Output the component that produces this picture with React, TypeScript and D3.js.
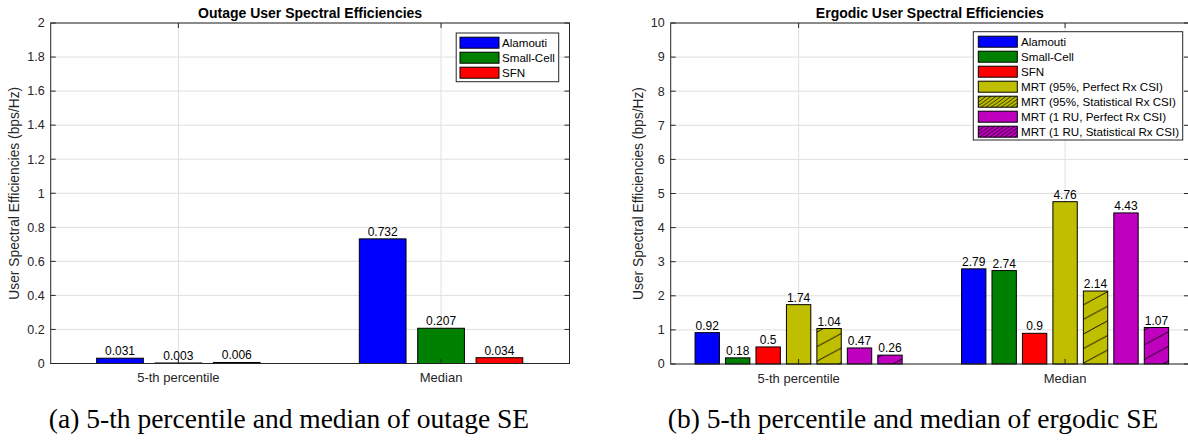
import React from 'react';
import * as d3 from 'd3';

const categories = ['5-th percentile', 'Median'];

const outageNames = ['Alamouti', 'Small-Cell', 'SFN'];
const outageAlamouti = [0.031, 0.732];
const outageSmallCell = [0.003, 0.207];
const outageSfn = [0.006, 0.034];

const ergodicNames = [
  'Alamouti',
  'Small-Cell',
  'SFN',
  'MRT (95%, Perfect Rx CSI)',
  'MRT (95%, Statistical Rx CSI)',
  'MRT (1 RU, Perfect Rx CSI)',
  'MRT (1 RU, Statistical Rx CSI)',
];
const ergodicAlamouti = [0.92, 2.79];
const ergodicSmallCell = [0.18, 2.74];
const ergodicSfn = [0.5, 0.9];
const ergodicMrt95Perfect = [1.74, 4.76];
const ergodicMrt95Stat = [1.04, 2.14];
const ergodicMrt1Perfect = [0.47, 4.43];
const ergodicMrt1Stat = [0.26, 1.07];

// colours / hatching per series
const blue = { fill: '#0000ff', hatch: false };
const green = { fill: '#008000', hatch: false };
const red = { fill: '#ff0000', hatch: false };
const olive = { fill: '#bfbf00', hatch: false };
const oliveHatch = { fill: '#bfbf00', hatch: true };
const purple = { fill: '#bf00bf', hatch: false };
const purpleHatch = { fill: '#bf00bf', hatch: true };

const AX = '#262626';
const GRID = '#dfdfdf';
const SANS = '"Liberation Sans", Arial, Helvetica, sans-serif';
const SERIF = '"Liberation Serif", "Times New Roman", serif';

type Layout = {
  id: string;
  left: number;
  right: number;
  top: number;
  bottom: number;
  xDomain: [number, number];
  yMax: number;
  yLabelX: number;
  catY: number;
  legend: { x: number; y: number; w: number; h: number; sw: number; textX: number; row0: number };
  captionX: number;
};

function Panel({ layout, title, caption, names, values, styles }: any) {
  const L: Layout = layout;
  const x = d3.scaleLinear().domain(L.xDomain).range([L.left, L.right]);
  const y = d3.scaleLinear().domain([0, L.yMax]).range([L.bottom, L.top]);
  const yTicks = y.ticks(10);
  const fmt = d3.format('~g');
  const n = names.length;
  const groupW = Math.min(0.8, n / (n + 1.5));
  const step = groupW / n;
  const barW = 0.8 * step;
  const tick = 5;
  const midX = (L.left + L.right) / 2;
  const midY = (L.top + L.bottom) / 2;
  const hb = `${L.id}-hb`;
  const hl = `${L.id}-hl`;

  return (
    <g>
      <defs>
        <pattern id={hb} patternUnits="userSpaceOnUse" width={27} height={14.6}>
          <path d="M-2,15.68 L29,-1.08 M-29,15.68 L2,-1.08 M25,15.68 L56,-1.08" stroke="#000" strokeWidth={0.9} />
        </pattern>
        <pattern id={hl} patternUnits="userSpaceOnUse" width={5} height={3.6}>
          <path d="M-1,4.32 L6,-0.72 M-6,4.32 L1,-0.72 M4,4.32 L11,-0.72" stroke="#000" strokeWidth={0.8} />
        </pattern>
      </defs>

      {/* grid */}
      {yTicks.map((t) => (
        <line key={'gy' + t} x1={L.left} x2={L.right} y1={y(t)} y2={y(t)} stroke={GRID} strokeWidth={1} />
      ))}
      {categories.map((c, i) => (
        <line key={'gx' + c} x1={x(i + 1)} x2={x(i + 1)} y1={L.top} y2={L.bottom} stroke={GRID} strokeWidth={1} />
      ))}

      {/* bars */}
      {values.map((vals: number[], s: number) =>
        vals.map((v, c) => {
          const cx = c + 1 + (s - (n - 1) / 2) * step;
          const x0 = x(cx - barW / 2);
          const x1 = x(cx + barW / 2);
          const y0 = y(v);
          const st = styles[s];
          return (
            <g key={`b${s}-${c}`}>
              <rect x={x0} y={y0} width={x1 - x0} height={L.bottom - y0} fill={st.fill} />
              {st.hatch && <rect x={x0} y={y0} width={x1 - x0} height={L.bottom - y0} fill={`url(#${hb})`} />}
              <rect x={x0} y={y0} width={x1 - x0} height={L.bottom - y0} fill="none" stroke="#000" strokeWidth={1} />
              <text x={(x0 + x1) / 2} y={y0 - 3} textAnchor="middle" fontFamily={SANS} fontSize={12} fill="#000">
                {String(v)}
              </text>
            </g>
          );
        })
      )}

      {/* axes box and ticks */}
      <rect x={L.left} y={L.top} width={L.right - L.left} height={L.bottom - L.top} fill="none" stroke={AX} strokeWidth={1} />
      {yTicks.map((t) => (
        <g key={'ty' + t}>
          <line x1={L.left} x2={L.left + tick} y1={y(t)} y2={y(t)} stroke={AX} />
          <line x1={L.right - tick} x2={L.right} y1={y(t)} y2={y(t)} stroke={AX} />
          <text x={L.left - 6} y={y(t) + 4.3} textAnchor="end" fontFamily={SANS} fontSize={12.5} fill={AX}>
            {fmt(t)}
          </text>
        </g>
      ))}
      {categories.map((c, i) => (
        <g key={'tx' + c}>
          <line x1={x(i + 1)} x2={x(i + 1)} y1={L.bottom} y2={L.bottom - tick} stroke={AX} />
          <line x1={x(i + 1)} x2={x(i + 1)} y1={L.top} y2={L.top + tick} stroke={AX} />
          <text x={x(i + 1)} y={L.catY} textAnchor="middle" fontFamily={SANS} fontSize={13} fill={AX}>
            {c}
          </text>
        </g>
      ))}

      <text x={midX} y={17.7} textAnchor="middle" fontFamily={SANS} fontSize={14} fontWeight="bold" fill="#000">
        {title}
      </text>
      <text
        transform={`translate(${L.yLabelX},${midY}) rotate(-90)`}
        textAnchor="middle"
        fontFamily={SANS}
        fontSize={13.8}
        fill={AX}
      >
        User Spectral Efficiencies (bps/Hz)
      </text>

      {/* legend */}
      <rect x={L.legend.x} y={L.legend.y} width={L.legend.w} height={L.legend.h} fill="#fff" stroke={AX} strokeWidth={1} />
      {names.map((name: string, i: number) => {
        const cy = L.legend.row0 + i * 15;
        const st = styles[i];
        return (
          <g key={'l' + name}>
            <rect x={L.legend.sw} y={cy - 5.5} width={39} height={11} fill={st.fill} />
            {st.hatch && <rect x={L.legend.sw} y={cy - 5.5} width={39} height={11} fill={`url(#${hl})`} />}
            <rect x={L.legend.sw} y={cy - 5.5} width={39} height={11} fill="none" stroke="#000" strokeWidth={1} />
            <text x={L.legend.textX} y={cy + 4} fontFamily={SANS} fontSize={11.6} fill="#000">
              {name}
            </text>
          </g>
        );
      })}

      <text x={L.captionX} y={427.5} textAnchor="middle" fontFamily={SERIF} fontSize={27.5} fill="#000">
        {caption}
      </text>
    </g>
  );
}

const outageLayout: Layout = {
  id: 'out',
  left: 50.7,
  right: 569.5,
  top: 23,
  bottom: 363.5,
  xDomain: [0.514, 2.489],
  yMax: 2,
  yLabelX: 19,
  catY: 382.3,
  legend: { x: 456.2, y: 33, w: 102.5, h: 48.7, sw: 460, textX: 502, row0: 42.7 },
  captionX: 289,
};

const ergodicLayout: Layout = {
  id: 'erg',
  left: 670.7,
  right: 1189,
  top: 23,
  bottom: 364,
  xDomain: [0.52, 2.465],
  yMax: 10,
  yLabelX: 642.5,
  catY: 383.3,
  legend: { x: 973.3, y: 31.7, w: 209.4, h: 108.3, sw: 978.3, textX: 1021, row0: 41.7 },
  captionX: 913,
};

export default function App() {
  return (
    <svg
      width={1188}
      height={441}
      viewBox="0 0 1188 441"
      style={{ position: 'absolute', left: 0, top: 0, display: 'block', background: '#fff' }}
    >
      <rect width={1188} height={441} fill="#fff" />
      <Panel
        layout={outageLayout}
        title="Outage User Spectral Efficiencies"
        caption="(a) 5-th percentile and median of outage SE"
        names={outageNames}
        values={[outageAlamouti, outageSmallCell, outageSfn]}
        styles={[blue, green, red]}
      />
      <Panel
        layout={ergodicLayout}
        title="Ergodic User Spectral Efficiencies"
        caption="(b) 5-th percentile and median of ergodic SE"
        names={ergodicNames}
        values={[
          ergodicAlamouti,
          ergodicSmallCell,
          ergodicSfn,
          ergodicMrt95Perfect,
          ergodicMrt95Stat,
          ergodicMrt1Perfect,
          ergodicMrt1Stat,
        ]}
        styles={[blue, green, red, olive, oliveHatch, purple, purpleHatch]}
      />
    </svg>
  );
}
